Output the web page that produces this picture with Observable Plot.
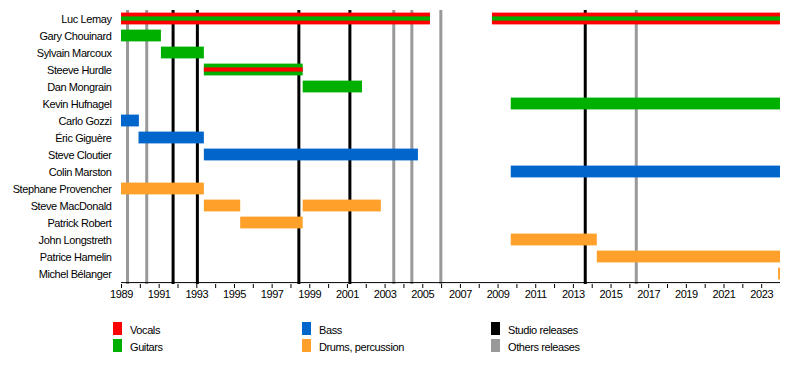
<!DOCTYPE html>
<html><head><meta charset="utf-8">
<script src="https://cdn.jsdelivr.net/npm/d3@7"></script>
<script src="https://cdn.jsdelivr.net/npm/@observablehq/plot@0.6"></script>
<style>
body{margin:0;background:#fff;font-family:"Liberation Sans",Arial,sans-serif;}
#wrap{position:relative;width:800px;height:370px;overflow:hidden;}
.sw{position:absolute;width:9px;height:13px;}
.lt{position:absolute;font-size:11px;letter-spacing:-0.4px;line-height:13px;color:#000;white-space:nowrap;}
</style></head><body><div id="wrap"></div>
<script>
const members = ["Luc Lemay","Gary Chouinard","Sylvain Marcoux","Steeve Hurdle","Dan Mongrain","Kevin Hufnagel","Carlo Gozzi","Éric Giguère","Steve Cloutier","Colin Marston","Stephane Provencher","Steve MacDonald","Patrick Robert","John Longstreth","Patrice Hamelin","Michel Bélanger"];

const barMember = ["Luc Lemay","Luc Lemay","Gary Chouinard","Sylvain Marcoux","Steeve Hurdle","Dan Mongrain","Kevin Hufnagel","Carlo Gozzi","Éric Giguère","Steve Cloutier","Colin Marston","Stephane Provencher","Steve MacDonald","Steve MacDonald","Patrick Robert","John Longstreth","Patrice Hamelin","Michel Bélanger"];
const barStart = [1989,2008.7,1989,1991.12,1993.4,1998.65,2009.7,1989,1989.93,1993.4,2009.7,1989,1993.4,1998.65,1995.33,2009.7,2014.27,2023.9];
const barEnd   = [2005.41,2024,1991.12,1993.4,1998.65,2001.8,2024,1989.95,1993.4,2004.77,2024,1993.4,1995.33,2002.8,1998.65,2014.27,2024,2024];
const barRole  = ["Vocals","Vocals","Guitars","Guitars","Guitars","Guitars","Guitars","Bass","Bass","Bass","Bass","Drums, percussion","Drums, percussion","Drums, percussion","Drums, percussion","Drums, percussion","Drums, percussion","Drums, percussion"];

const stripeMember = ["Luc Lemay","Luc Lemay","Steeve Hurdle"];
const stripeStart = [1989,2008.7,1993.4];
const stripeEnd = [2005.41,2024,1998.65];
const stripeRole = ["Guitars","Guitars","Vocals"];

const studioReleases = [1991.74,1993.03,1998.42,2001.13,2013.63];
const otherReleases = [1989.32,1990.34,2003.46,2004.42,2005.96,2016.34];

const roles = ["Vocals","Guitars","Bass","Drums, percussion"];
const roleColors = ["#ff0000","#00b000","#0066cc","#ffa02a"];
const lineLabels = ["Studio releases","Others releases"];
const lineColors = ["#000000","#999999"];
const tickYears = d3.range(1989, 2024);

const bars = barMember.map((m,i)=>({member:m,start:barStart[i],end:barEnd[i],role:barRole[i]}));
const stripes = stripeMember.map((m,i)=>({member:m,start:stripeStart[i],end:stripeEnd[i],role:stripeRole[i]}));

const chart = Plot.plot({
  width:800, height:305,
  marginLeft:121, marginRight:20, marginTop:8, marginBottom:21,
  style:{fontFamily:"Liberation Sans, Arial, sans-serif", fontSize:"11px", letterSpacing:"-0.4px", color:"#000", background:"#fff"},
  x:{domain:[1989,2024], label:null},
  y:{domain:members, padding:0, label:null},
  color:{domain:roles, range:roleColors},
  marks:[
    Plot.ruleX(otherReleases,{x:d=>d, stroke:lineColors[1], strokeWidth:3, insetTop:2}),
    Plot.ruleX(studioReleases,{x:d=>d, stroke:lineColors[0], strokeWidth:3, insetTop:2}),
    Plot.barX(bars,{x1:"start",x2:"end",y:"member",fill:"role",insetTop:2.6,insetBottom:2.6}),
    Plot.barX(stripes,{x1:"start",x2:"end",y:"member",fill:"role",insetTop:6.4,insetBottom:6.4}),
    Plot.axisY({tickSize:0, tickPadding:10, label:null}),
    Plot.axisX({ticks:tickYears, tickFormat:d=>(d%2===1?String(d):""), tickSize:4, tickPadding:2, label:null}),
    Plot.ruleY([members[members.length-1]],{y:()=>members[members.length-1], dy:8.6, x1:1989, x2:2024, stroke:"#000", strokeWidth:1})
  ]
});
const wrap = document.getElementById("wrap");
wrap.appendChild(chart);

const legendItems = roles.map((r,i)=>({label:r,color:roleColors[i]})).concat(lineLabels.map((l,i)=>({label:l,color:lineColors[i]})));
const colX = [113,302,491];
const rowY = [322,339];
legendItems.forEach((it,i)=>{
  const col = Math.floor(i/2), row = i%2;
  const sw = document.createElement("div");
  sw.className="sw"; sw.style.left=colX[col]+"px"; sw.style.top=rowY[row]+"px"; sw.style.background=it.color;
  const t = document.createElement("div");
  t.className="lt"; t.style.left=(colX[col]+17)+"px"; t.style.top=(rowY[row]+1.5)+"px"; t.textContent=it.label;
  wrap.appendChild(sw); wrap.appendChild(t);
});
</script></body></html>
